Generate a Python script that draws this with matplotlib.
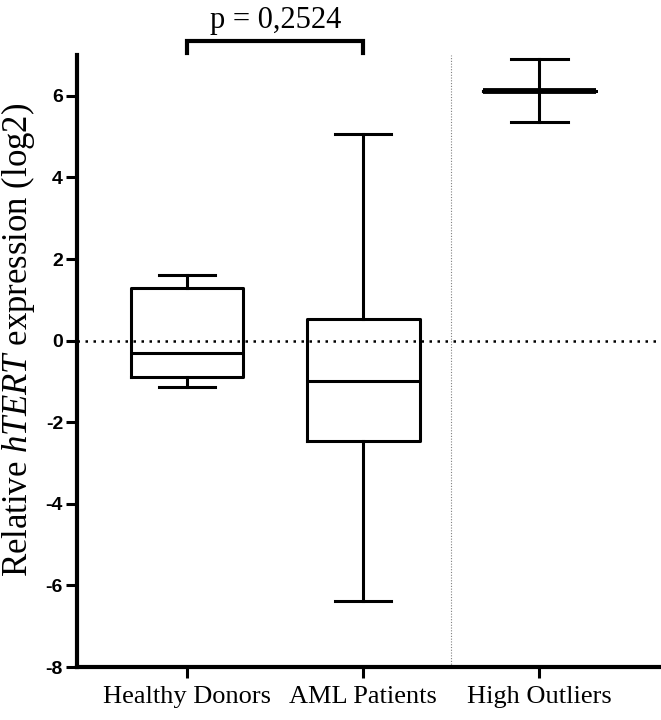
import matplotlib
matplotlib.use('Agg')
import matplotlib.pyplot as plt

plt.rcParams['mathtext.fontset'] = 'custom'
plt.rcParams['mathtext.it'] = 'Liberation Serif:italic'
plt.rcParams['mathtext.rm'] = 'Liberation Serif'
plt.rcParams['axes.unicode_minus'] = False

# box plot summary values
groups = ['Healthy Donors', 'AML Patients', 'High Outliers']
whislo = [-1.13, -6.39, 5.36]
q1 = [-0.88, -2.46, 6.13]
med = [-0.30, -0.98, 6.13]
q3 = [1.28, 0.54, 6.13]
whishi = [1.62, 5.06, 6.90]
p_text = 'p = 0,2524'

stats = []
for i in range(len(groups)):
    stats.append({'label': groups[i], 'whislo': whislo[i], 'q1': q1[i],
                  'med': med[i], 'q3': q3[i], 'whishi': whishi[i]})

fig = plt.figure(figsize=(6.61, 7.2), dpi=100)
ax = fig.add_axes([0.1165, 0.0736, 0.8835, 0.85])

lw = 2.2
pos = [1, 2, 3]
ax.bxp(stats, positions=pos, widths=0.64, showfliers=False, patch_artist=False,
       boxprops=dict(linewidth=lw, color='black'),
       whiskerprops=dict(linewidth=lw, color='black'),
       capprops=dict(linewidth=lw, color='black'),
       medianprops=dict(linewidth=lw, color='black'),
       capwidths=0.32)
# thicker median for the collapsed box
ax.hlines(med[2], pos[2] - 0.32, pos[2] + 0.32, color='black', linewidth=4.2, zorder=4)

ax.axhline(0, color='black', linestyle=(0, (1, 2.2)), linewidth=1.8, zorder=0)
ax.axvline(2.5, color='grey', linestyle=(0, (1, 1.5)), linewidth=0.8, zorder=0)

ax.set_xlim(0.375, 3.69)
ax.set_ylim(-8, 7)
ax.set_yticks(range(-8, 7, 2))
ax.set_xticks(pos)
ax.set_xticklabels(groups, fontfamily='Liberation Serif', fontsize=19)
for t in ax.get_yticklabels():
    t.set_fontfamily('Liberation Sans')
    t.set_fontweight('bold')
    t.set_fontsize(14)
ax.tick_params(axis='both', width=2.2, length=8, direction='out')
ax.tick_params(axis='y', pad=2)
ax.tick_params(axis='x', pad=6)
ax.spines['top'].set_visible(False)
ax.spines['right'].set_visible(False)
ax.spines['left'].set_linewidth(3)
ax.spines['bottom'].set_linewidth(3)

ax.set_ylabel('Relative $\\mathit{hTERT}$ expression (log2)', fontfamily='Liberation Serif',
              fontsize=25)
ax.yaxis.set_label_coords(-0.068, 0.535)

# significance bracket
ax.plot([1, 1, 2, 2], [7.05, 7.35, 7.35, 7.05], color='black', linewidth=3,
        clip_on=False, solid_joinstyle='miter')
ax.text(1.5, 7.5, p_text, ha='center', va='bottom', fontfamily='Liberation Serif',
        fontsize=22)

fig.savefig('out.png', dpi=100)
